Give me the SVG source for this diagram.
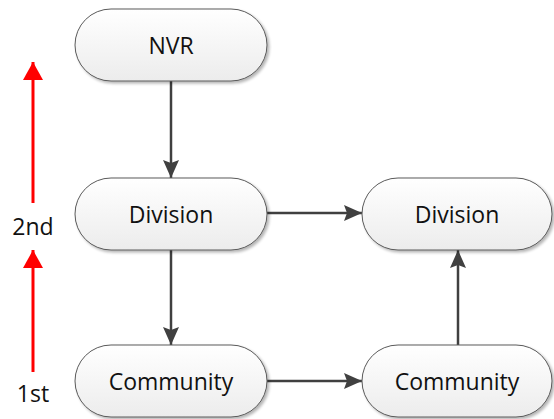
<svg xmlns="http://www.w3.org/2000/svg" width="554" height="419" viewBox="0 0 554 419">
  <defs>
    <linearGradient id="pill" x1="0" y1="0" x2="0" y2="1">
      <stop offset="0" stop-color="#ffffff"/>
      <stop offset="1" stop-color="#ececec"/>
    </linearGradient>
    <filter id="shadow" x="-10%" y="-10%" width="125%" height="130%">
      <feGaussianBlur in="SourceAlpha" stdDeviation="1.5"/>
      <feOffset dx="2" dy="2" result="b"/>
      <feComponentTransfer><feFuncA type="linear" slope="0.3"/></feComponentTransfer>
      <feMerge><feMergeNode/><feMergeNode in="SourceGraphic"/></feMerge>
    </filter>
    <marker id="arrow" viewBox="0 0 18 16" refX="18" refY="8" markerWidth="18" markerHeight="16" markerUnits="userSpaceOnUse" orient="auto">
      <path d="M0,0 L18,8 L0,16 L3,8 Z" fill="#404040"/>
    </marker>
    <marker id="redArrow" viewBox="0 0 18 20" refX="18" refY="10" markerWidth="18" markerHeight="20" markerUnits="userSpaceOnUse" orient="auto">
      <path d="M0,0 L18,10 L0,20 Z" fill="#ff0000"/>
    </marker>
  </defs>
  <style>
    .node rect { fill: url(#pill); stroke: #5a5a5a; stroke-width: 1; filter: url(#shadow); }
    .node text, .label { font-family: "Open Sans", "Liberation Sans", sans-serif; font-size: 23px; fill: #111; text-anchor: middle; dominant-baseline: central; }
    .edge { stroke: #404040; stroke-width: 2.5; fill: none; marker-end: url(#arrow); }
    .level { stroke: #ff0000; stroke-width: 3; fill: none; marker-end: url(#redArrow); }
  </style>

  <g id="connectors">
    <line class="edge" x1="171" y1="81" x2="171" y2="178"/>
    <line class="edge" x1="171" y1="250" x2="171" y2="345"/>
    <line class="edge" x1="267" y1="213" x2="362" y2="213"/>
    <line class="edge" x1="267" y1="381" x2="362" y2="381"/>
    <line class="edge" x1="458" y1="345" x2="458" y2="250"/>
  </g>

  <g id="levels">
    <line class="level" x1="33" y1="203" x2="33" y2="62"/>
    <line class="level" x1="33" y1="372" x2="33" y2="250"/>
    <text class="label" x="33" y="226">2nd</text>
    <text class="label" x="33" y="393">1st</text>
  </g>

  <g id="nvr" class="node">
    <rect x="75" y="9" width="192" height="72" rx="36"/>
    <text x="171" y="45">NVR</text>
  </g>
  <g id="division-left" class="node">
    <rect x="75" y="178" width="192" height="72" rx="36"/>
    <text x="171" y="214">Division</text>
  </g>
  <g id="division-right" class="node">
    <rect x="362" y="178" width="190" height="72" rx="36"/>
    <text x="457" y="214">Division</text>
  </g>
  <g id="community-left" class="node">
    <rect x="75" y="345" width="192" height="72" rx="36"/>
    <text x="171" y="381">Community</text>
  </g>
  <g id="community-right" class="node">
    <rect x="362" y="345" width="190" height="72" rx="36"/>
    <text x="457" y="381">Community</text>
  </g>
</svg>
